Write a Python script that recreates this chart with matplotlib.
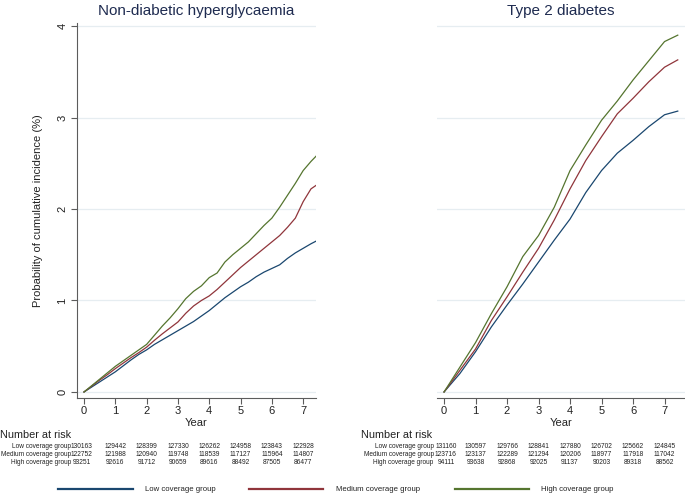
import matplotlib
matplotlib.use("Agg")
import matplotlib.pyplot as plt
from matplotlib.lines import Line2D
from matplotlib.transforms import blended_transform_factory

plt.rcParams['font.family'] = ['Liberation Sans', 'DejaVu Sans']

# years since baseline at which the curves were read
ndh_years = [0, 0.25, 0.5, 0.75, 1, 1.25, 1.5, 1.75, 2, 2.25, 2.5, 2.75, 3, 3.25, 3.5, 3.75,
             4, 4.25, 4.5, 4.75, 5, 5.25, 5.5, 5.75, 6, 6.25, 6.5, 6.75, 7, 7.25, 7.42]
t2d_years = [0, 0.5, 1, 1.5, 2, 2.5, 3, 3.5, 4, 4.5, 5, 5.5, 6, 6.5, 7, 7.42]

# cumulative incidence (%) - non-diabetic hyperglycaemia
ndh_low = [0, 0.055, 0.11, 0.165, 0.22, 0.285, 0.35, 0.41, 0.46, 0.52, 0.57, 0.62, 0.67, 0.72,
           0.77, 0.83, 0.89, 0.96, 1.03, 1.09, 1.15, 1.20, 1.26, 1.31, 1.35, 1.39, 1.46, 1.52,
           1.57, 1.62, 1.65]
ndh_medium = [0, 0.065, 0.13, 0.19, 0.255, 0.315, 0.375, 0.43, 0.49, 0.565, 0.635, 0.70, 0.765,
              0.86, 0.94, 1.00, 1.05, 1.12, 1.20, 1.28, 1.36, 1.43, 1.50, 1.57, 1.64, 1.71,
              1.80, 1.90, 2.08, 2.22, 2.26]
ndh_high = [0, 0.07, 0.14, 0.21, 0.28, 0.34, 0.40, 0.46, 0.52, 0.62, 0.72, 0.81, 0.91, 1.02,
            1.10, 1.16, 1.25, 1.30, 1.42, 1.50, 1.57, 1.64, 1.73, 1.82, 1.90, 2.02, 2.15,
            2.28, 2.42, 2.52, 2.58]

# cumulative incidence (%) - type 2 diabetes
t2d_low = [0, 0.20, 0.44, 0.71, 0.95, 1.18, 1.42, 1.66, 1.89, 2.18, 2.42, 2.61, 2.75, 2.90, 3.03, 3.07]
t2d_medium = [0, 0.235, 0.47, 0.78, 1.04, 1.31, 1.57, 1.88, 2.22, 2.53, 2.79, 3.04, 3.21, 3.39, 3.55, 3.63]
t2d_high = [0, 0.27, 0.54, 0.855, 1.15, 1.48, 1.71, 2.02, 2.42, 2.70, 2.97, 3.18, 3.41, 3.62, 3.83, 3.90]

groups = ['Low coverage group', 'Medium coverage group', 'High coverage group']
colors = ['#1a476f', '#90353b', '#55752f']

risk_years = [0, 1, 2, 3, 4, 5, 6, 7]
ndh_risk = [
    [130163, 129442, 128399, 127330, 126262, 124958, 123843, 122928],
    [122752, 121988, 120940, 119748, 118539, 117127, 115964, 114807],
    [93251, 92616, 91712, 90659, 89616, 88492, 87505, 86477],
]
t2d_risk = [
    [131160, 130597, 129766, 128841, 127880, 126702, 125662, 124845],
    [123716, 123137, 122289, 121294, 120206, 118977, 117918, 117042],
    [94111, 93638, 92868, 92025, 91137, 90203, 89318, 88562],
]

W, H = 685, 494
fig = plt.figure(figsize=(W / 100, H / 100), dpi=100)


def px(x, y):
    return x / W, 1 - y / H


title_col = '#1e2b50'
axis_col = '#5c5c5c'
grid_col = '#e6edf1'


def make_panel(left_px, right_px, xmax, title, years, curves, risk, label_x, first_x,
               show_y):
    x0, _ = px(left_px, 0)
    x1, _ = px(right_px, 0)
    _, y0 = px(0, 398)
    _, y1 = px(0, 23)
    ax = fig.add_axes([x0, y0, x1 - x0, y1 - y0])
    for vals, c in zip(curves, colors):
        ax.plot(years, vals, color=c, lw=0.9)
    ax.set_xlim(-0.224, xmax)
    ax.set_ylim(-0.066, 4.033)
    ax.set_xticks(risk_years)
    ax.set_yticks([0, 1, 2, 3, 4])
    ax.grid(axis='y', color=grid_col, lw=0.9)
    ax.set_axisbelow(True)
    for s in ['top', 'right']:
        ax.spines[s].set_visible(False)
    ax.spines['bottom'].set_color(axis_col)
    ax.spines['bottom'].set_linewidth(0.8)
    ax.tick_params(axis='x', colors=axis_col, labelcolor='#222222', labelsize=8,
                   length=4, width=0.8, pad=2)
    if show_y:
        ax.spines['left'].set_color(axis_col)
        ax.spines['left'].set_linewidth(0.8)
        ax.tick_params(axis='y', colors=axis_col, labelcolor='#222222', labelsize=8,
                       length=4, width=0.8, pad=3)
        for lab in ax.get_yticklabels():
            lab.set_rotation(90)
            lab.set_va('center')
        ax.set_ylabel('Probability of cumulative incidence (%)', fontsize=8,
                      color='#222222', labelpad=10)
    else:
        ax.spines['left'].set_visible(False)
        ax.tick_params(axis='y', left=False, labelleft=False)
    ax.set_xlabel('Year', fontsize=8, color='#222222', labelpad=1)
    ax.set_title(title, fontsize=11, color=title_col, pad=6)

    tr = blended_transform_factory(ax.transData, fig.transFigure)
    row_y = [446.7, 454.5, 462.3]
    for g, counts, yy in zip(groups, risk, row_y):
        _, fy = px(0, yy)
        ax.text(label_x, fy, g, transform=tr, ha='right', va='center',
                fontsize=4.7, color='#222222')
        for i, (t, n) in enumerate(zip(risk_years, counts)):
            xx = first_x if i == 0 else t
            ax.text(xx, fy, str(n), transform=tr, ha='center', va='center',
                    fontsize=4.8, color='#222222')
    return ax


make_panel(77, 316, 7.41, 'Non-diabetic hyperglycaemia', ndh_years,
           [ndh_low, ndh_medium, ndh_high], ndh_risk, -0.42, -0.08, True)
make_panel(437, 685, 7.65, 'Type 2 diabetes', t2d_years,
           [t2d_low, t2d_medium, t2d_high], t2d_risk, -0.33, 0.06, False)

fig.text(*px(0, 435), 'Number at risk', ha='left', va='center', fontsize=7.8,
         color='#222222')
fig.text(*px(361, 435), 'Number at risk', ha='left', va='center', fontsize=7.8,
         color='#222222')

# legend along the bottom
leg_y = 489
leg_lines = [(58, 133, 145), (249, 323, 336), (455, 529, 541)]
for (a, b, tx), g, c in zip(leg_lines, groups, colors):
    xa, ly = px(a, leg_y)
    xb, _ = px(b, leg_y)
    fig.add_artist(Line2D([xa, xb], [ly, ly], color=c, lw=1.6,
                          transform=fig.transFigure))
    fig.text(*px(tx, leg_y), g, ha='left', va='center', fontsize=5.6,
             color='#222222')

fig.savefig('out.png', dpi=100)
